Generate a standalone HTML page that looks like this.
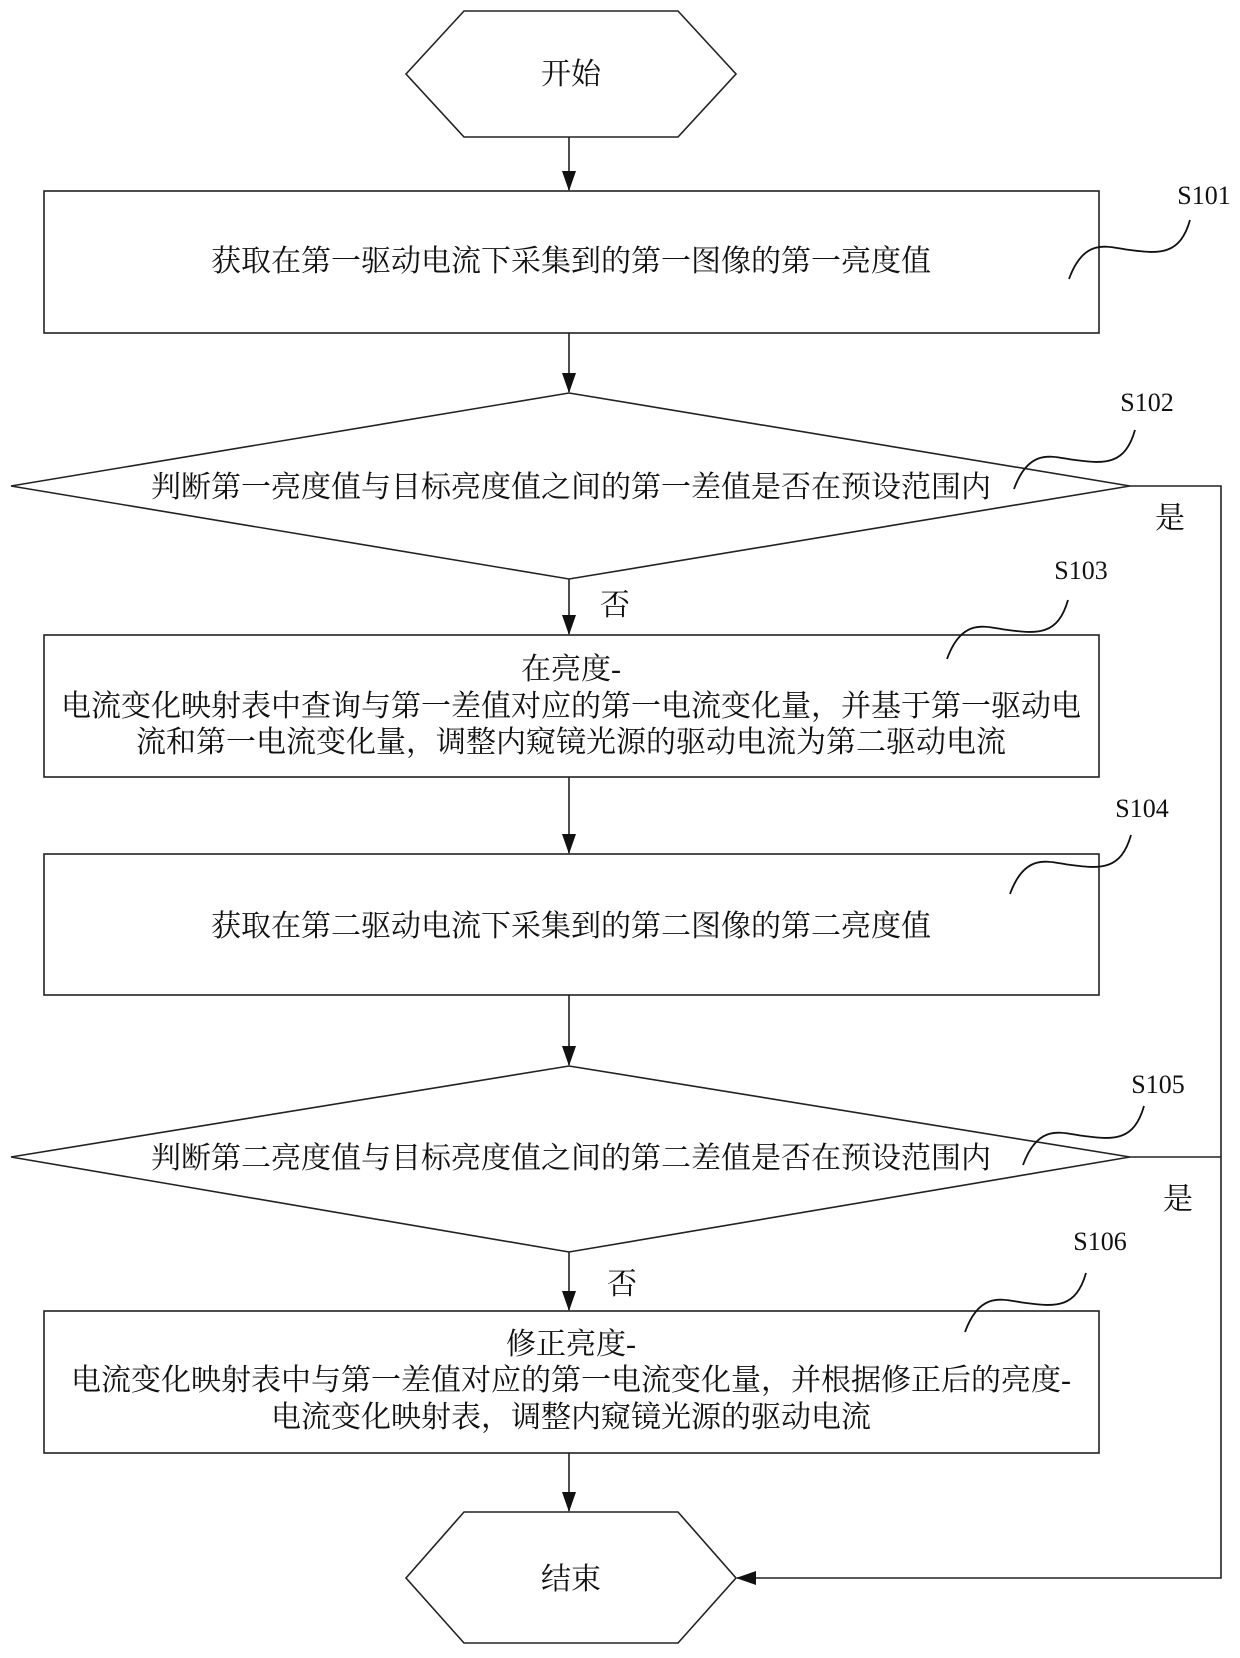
<!DOCTYPE html>
<html><head><meta charset="utf-8"><style>
html,body{margin:0;padding:0;background:#fff}
svg text{font-family:"Liberation Serif","Noto Serif CJK SC",serif;fill:#111}
</style></head><body>
<svg width="1240" height="1653" viewBox="0 0 1240 1653" xmlns="http://www.w3.org/2000/svg">
<defs>
<marker id="a" markerWidth="20" markerHeight="14" refX="19" refY="7" orient="auto" markerUnits="userSpaceOnUse">
<path d="M0,0 L20,7 L0,14 Z" fill="#111"/></marker>
<g id="sq"><path d="M0,0 C16,-44 41,-31 61,-29 C91,-25 111,-24 121,-59" fill="none" stroke="#111" stroke-width="1.8"/></g>
</defs>
<g fill="none" stroke="#222" stroke-width="1.6">
<polygon points="406,74 464,11 678,11 736,74 678,137 464,137"/>
<rect x="44" y="191" width="1055" height="142"/>
<polygon points="569,393 1130,486 569,579 11,486"/>
<rect x="44" y="635" width="1055" height="142"/>
<rect x="44" y="854" width="1055" height="141"/>
<polygon points="569,1066 1130,1157 569,1252 11,1157"/>
<rect x="44" y="1311" width="1055" height="142"/>
<polygon points="406,1578 464,1512 678,1512 736,1578 678,1643 464,1643"/>
<line x1="569" y1="137" x2="569" y2="190" marker-end="url(#a)"/>
<line x1="569" y1="333" x2="569" y2="392" marker-end="url(#a)"/>
<line x1="569" y1="579" x2="569" y2="634" marker-end="url(#a)"/>
<line x1="569" y1="777" x2="569" y2="853" marker-end="url(#a)"/>
<line x1="569" y1="995" x2="569" y2="1065" marker-end="url(#a)"/>
<line x1="569" y1="1252" x2="569" y2="1310" marker-end="url(#a)"/>
<line x1="569" y1="1453" x2="569" y2="1511" marker-end="url(#a)"/>
<polyline points="1130,486 1221,486 1221,1578 737,1578" marker-end="url(#a)"/>
<line x1="1130" y1="1157" x2="1221" y2="1157"/>
</g>
<use href="#sq" x="1069" y="279"/>
<use href="#sq" x="1014" y="489"/>
<use href="#sq" x="947" y="659"/>
<use href="#sq" x="1010" y="894"/>
<use href="#sq" x="1023" y="1165"/>
<use href="#sq" x="965" y="1332"/>
<g font-size="30" text-anchor="middle">
<text x="571" y="84">开始</text>
<text x="571" y="271">获取在第一驱动电流下采集到的第一图像的第一亮度值</text>
<text x="571" y="497">判断第一亮度值与目标亮度值之间的第一差值是否在预设范围内</text>
<text x="571" y="679">在亮度-</text>
<text x="571" y="716">电流变化映射表中查询与第一差值对应的第一电流变化量，并基于第一驱动电</text>
<text x="571" y="752">流和第一电流变化量，调整内窥镜光源的驱动电流为第二驱动电流</text>
<text x="571" y="936">获取在第二驱动电流下采集到的第二图像的第二亮度值</text>
<text x="571" y="1168">判断第二亮度值与目标亮度值之间的第二差值是否在预设范围内</text>
<text x="571" y="1354">修正亮度-</text>
<text x="571" y="1390">电流变化映射表中与第一差值对应的第一电流变化量，并根据修正后的亮度-</text>
<text x="571" y="1427">电流变化映射表，调整内窥镜光源的驱动电流</text>
<text x="571" y="1589">结束</text>
<text x="1170" y="528">是</text>
<text x="1178" y="1209">是</text>
<text x="615" y="615">否</text>
<text x="622" y="1294">否</text>
</g>
<g font-size="26" text-anchor="middle">
<text x="1204" y="204">S101</text>
<text x="1147" y="411">S102</text>
<text x="1081" y="579">S103</text>
<text x="1142" y="817">S104</text>
<text x="1158" y="1093">S105</text>
<text x="1100" y="1250">S106</text>
</g>
</svg>
</body></html>
